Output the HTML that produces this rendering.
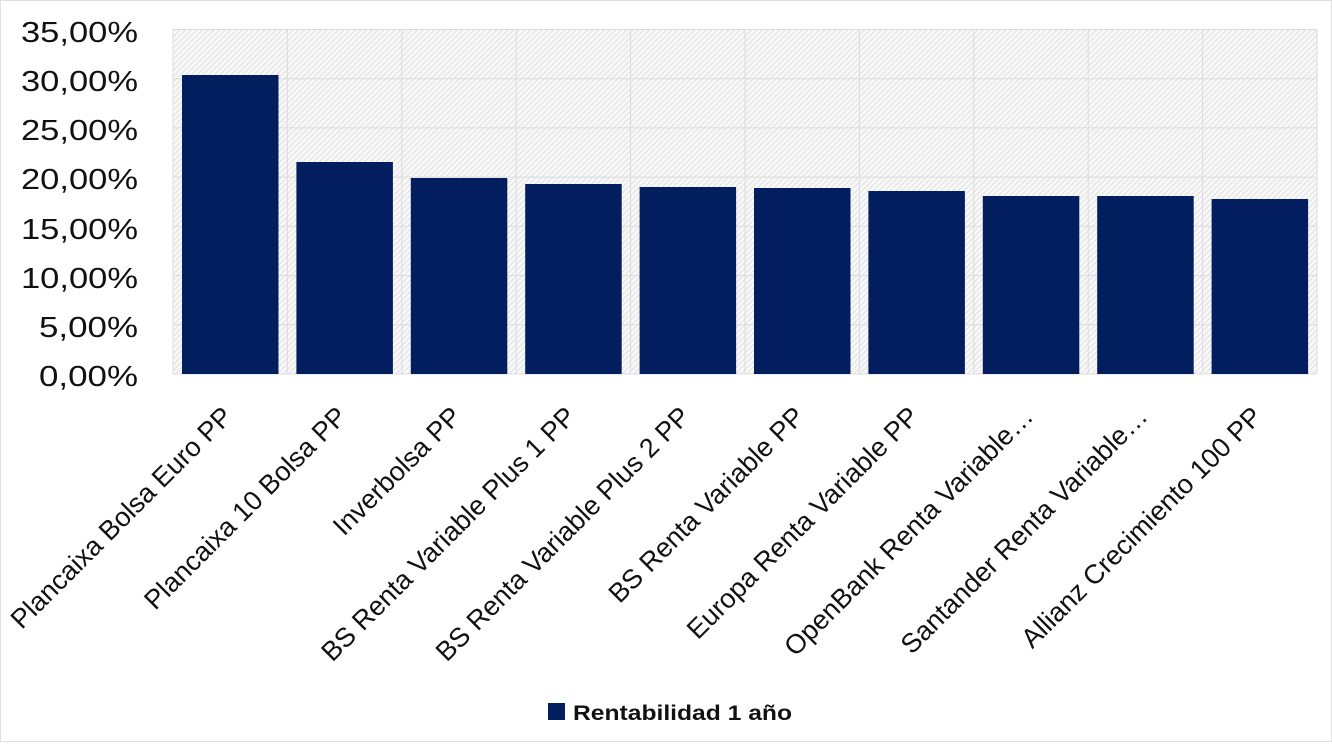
<!DOCTYPE html>
<html><head><meta charset="utf-8"><style>html,body{margin:0;padding:0;background:#fff}</style></head>
<body>
<svg width="1332" height="742" xmlns="http://www.w3.org/2000/svg" font-family="Liberation Sans, sans-serif">
<defs>
<pattern id="h" width="4" height="4" patternUnits="userSpaceOnUse" patternTransform="rotate(45)">
<rect width="4" height="4" fill="#f8f8f8"/><line x1="0" y1="0" x2="0" y2="4" stroke="#d8d8d8" stroke-width="1.5"/>
</pattern>
</defs>
<rect x="0.5" y="0.5" width="1331" height="741" fill="#fff" stroke="#e0e0e0"/>
<rect x="173" y="29.5" width="1144" height="344.5" fill="url(#h)"/>
<g stroke="#dcdcdc" stroke-width="1">
<line x1="173" y1="29.5" x2="1317" y2="29.5"/><line x1="173" y1="78.7" x2="1317" y2="78.7"/>
<line x1="173" y1="127.9" x2="1317" y2="127.9"/><line x1="173" y1="177.1" x2="1317" y2="177.1"/>
<line x1="173" y1="226.3" x2="1317" y2="226.3"/><line x1="173" y1="275.6" x2="1317" y2="275.6"/>
<line x1="173" y1="324.8" x2="1317" y2="324.8"/><line x1="173" y1="374" x2="1317" y2="374"/>
<line x1="173" y1="29.5" x2="173" y2="374"/><line x1="287.4" y1="29.5" x2="287.4" y2="374"/>
<line x1="401.8" y1="29.5" x2="401.8" y2="374"/><line x1="516.2" y1="29.5" x2="516.2" y2="374"/>
<line x1="630.6" y1="29.5" x2="630.6" y2="374"/><line x1="745" y1="29.5" x2="745" y2="374"/>
<line x1="859.4" y1="29.5" x2="859.4" y2="374"/><line x1="973.8" y1="29.5" x2="973.8" y2="374"/>
<line x1="1088.2" y1="29.5" x2="1088.2" y2="374"/><line x1="1202.6" y1="29.5" x2="1202.6" y2="374"/>
<line x1="1317" y1="29.5" x2="1317" y2="374"/>
</g>
<g fill="#021e5f">
<rect x="182" y="75" width="96.5" height="299"/>
<rect x="296.4" y="162" width="96.5" height="212"/>
<rect x="410.8" y="178" width="96.5" height="196"/>
<rect x="525.2" y="184" width="96.5" height="190"/>
<rect x="639.6" y="187" width="96.5" height="187"/>
<rect x="754" y="188" width="96.5" height="186"/>
<rect x="868.4" y="191" width="96.5" height="183"/>
<rect x="982.8" y="196" width="96.5" height="178"/>
<rect x="1097.2" y="196" width="96.5" height="178"/>
<rect x="1211.6" y="199" width="96.5" height="175"/>
</g>
<g font-size="29" fill="#111" text-anchor="end">
<text x="138" y="42" textLength="117" lengthAdjust="spacingAndGlyphs">35,00%</text><text x="138" y="91" textLength="117" lengthAdjust="spacingAndGlyphs">30,00%</text>
<text x="138" y="140" textLength="117" lengthAdjust="spacingAndGlyphs">25,00%</text><text x="138" y="189" textLength="117" lengthAdjust="spacingAndGlyphs">20,00%</text>
<text x="138" y="239" textLength="117" lengthAdjust="spacingAndGlyphs">15,00%</text><text x="138" y="288" textLength="117" lengthAdjust="spacingAndGlyphs">10,00%</text>
<text x="138" y="337" textLength="99" lengthAdjust="spacingAndGlyphs">5,00%</text><text x="138" y="386" textLength="99" lengthAdjust="spacingAndGlyphs">0,00%</text>
</g>
<g font-size="27" fill="#111" text-anchor="end">
<text transform="translate(234,418) rotate(-45)">Plancaixa Bolsa Euro PP</text>
<text transform="translate(348.4,418) rotate(-45)">Plancaixa 10 Bolsa PP</text>
<text transform="translate(462.8,418) rotate(-45)">Inverbolsa PP</text>
<text transform="translate(577.2,418) rotate(-45)">BS Renta Variable Plus 1 PP</text>
<text transform="translate(691.6,418) rotate(-45)">BS Renta Variable Plus 2 PP</text>
<text transform="translate(806,418) rotate(-45)">BS Renta Variable PP</text>
<text transform="translate(920.4,418) rotate(-45)">Europa Renta Variable PP</text>
<text transform="translate(1034.8,418) rotate(-45)">OpenBank Renta Variable…</text>
<text transform="translate(1149.2,418) rotate(-45)">Santander Renta Variable…</text>
<text transform="translate(1263.6,418) rotate(-45)">Allianz Crecimiento 100 PP</text>
</g>
<rect x="548" y="703" width="17" height="17" fill="#021e5f"/>
<text x="573" y="720" font-size="21" font-weight="bold" fill="#111" textLength="219" lengthAdjust="spacingAndGlyphs">Rentabilidad 1 año</text>
</svg>
</body></html>
